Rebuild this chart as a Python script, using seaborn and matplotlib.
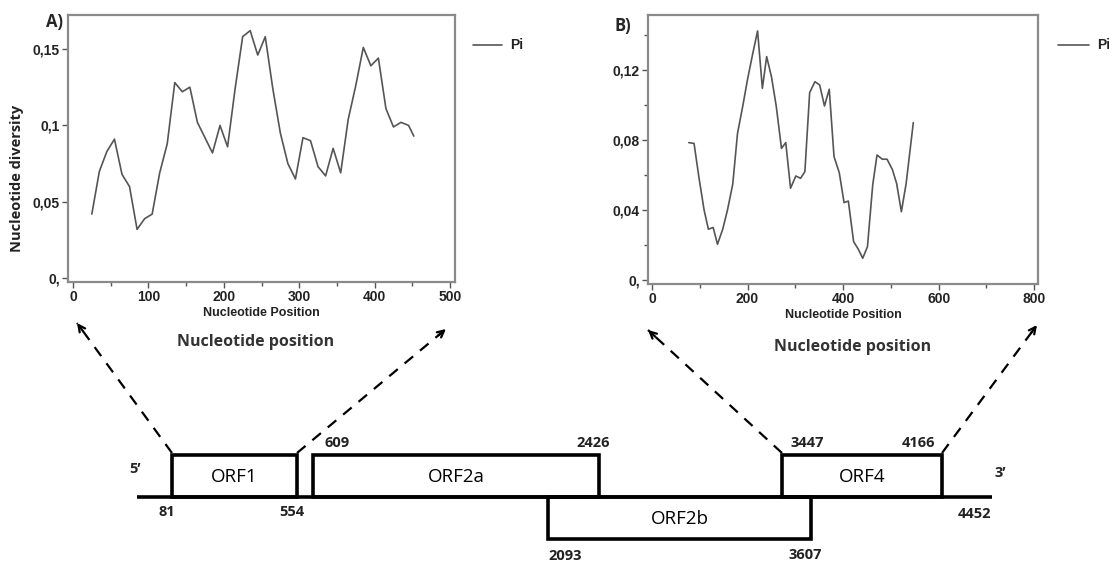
import numpy as np
import matplotlib
matplotlib.use("Agg")
import matplotlib.pyplot as plt
import seaborn as sns
from matplotlib.patches import Rectangle
from matplotlib.ticker import MultipleLocator, FixedLocator, FixedFormatter

# Nucleotide diversity (Pi), panel A
pos_a = [25, 35, 45, 55, 65, 75, 85, 95, 105, 115, 125, 135, 145, 155, 165, 175,
         185, 195, 205, 215, 225, 235, 245, 255, 265, 275, 285, 295, 305, 315,
         325, 335, 345, 355, 365, 375, 385, 395, 405, 415, 425, 435, 445, 452]
pi_a = [0.042, 0.070, 0.083, 0.091, 0.068, 0.060, 0.032, 0.039, 0.042, 0.069,
        0.088, 0.128, 0.122, 0.125, 0.102, 0.092, 0.082, 0.100, 0.086, 0.124,
        0.158, 0.162, 0.146, 0.158, 0.124, 0.095, 0.075, 0.065, 0.092, 0.090,
        0.073, 0.067, 0.085, 0.069, 0.104, 0.126, 0.151, 0.139, 0.144, 0.111,
        0.099, 0.102, 0.100, 0.093]

# panel B
pos_b = [77, 88, 98, 109, 118, 128, 137, 148, 158, 169, 179, 190, 200, 211, 221,
         231, 240, 250, 260, 271, 280, 290, 301, 311, 320, 330, 341, 351, 361,
         371, 381, 392, 402, 411, 422, 432, 441, 451, 462, 471, 482, 492, 503,
         512, 522, 532, 547]
pi_b = [0.0785, 0.078, 0.059, 0.040, 0.029, 0.030, 0.0204, 0.029, 0.040, 0.0547,
        0.0838, 0.0994, 0.1147, 0.1295, 0.1423, 0.1095, 0.1276, 0.1162, 0.0994,
        0.0752, 0.0785, 0.0524, 0.0594, 0.0581, 0.0619, 0.107, 0.1133, 0.1114,
        0.0994, 0.109, 0.0705, 0.0613, 0.0442, 0.0451, 0.0219, 0.0175, 0.0124,
        0.019, 0.0543, 0.0714, 0.069, 0.069, 0.0632, 0.0552, 0.039, 0.0552, 0.0899]

yticks_a = [0, 0.05, 0.1, 0.15]
ylabels_a = ["0,", "0,05", "0,1", "0,15"]
yticks_b = [0, 0.04, 0.08, 0.12]
ylabels_b = ["0,", "0,04", "0,08", "0,12"]

# genome organisation
orf_names = ["ORF1", "ORF2a", "ORF2b", "ORF4"]
orf_start = [81, 609, 2093, 3447]
orf_end = [554, 2426, 3607, 4166]
genome_len = 4452

sns.set_style("white")
plt.rcParams['font.family'] = ['Open Sans', 'DejaVu Sans']
tick_font = ['Liberation Sans Narrow', 'Liberation Sans', 'DejaVu Sans']

fig = plt.figure(figsize=(11.09, 5.62), dpi=100)

# background axes in pixel units for the schematic
bg = fig.add_axes([0, 0, 1, 1], zorder=0)
bg.set_xlim(0, 1109)
bg.set_ylim(562, 0)
bg.axis('off')

line_col = '#555555'
frame_col = '#8a8a8a'


def pi_panel(rect, x, y, xlim, ylim, xmajor, xminor, yticks, ylabels, yminor):
    ax = fig.add_axes(rect, zorder=2)
    sns.lineplot(x=x, y=y, ax=ax, color=line_col, linewidth=1.2)
    ax.set_xlim(*xlim)
    ax.set_ylim(*ylim)
    ax.xaxis.set_major_locator(MultipleLocator(xmajor))
    ax.xaxis.set_minor_locator(MultipleLocator(xminor))
    ax.yaxis.set_major_locator(FixedLocator(yticks))
    ax.yaxis.set_major_formatter(FixedFormatter(ylabels))
    if yminor:
        ax.yaxis.set_minor_locator(FixedLocator(yminor))
    ax.tick_params(which='both', direction='out', color='#555555', width=1, bottom=True, left=True)
    ax.tick_params(which='major', length=4, pad=2, labelsize=10, labelcolor='#222222')
    ax.tick_params(which='minor', length=3)
    for lab in ax.get_xticklabels() + ax.get_yticklabels():
        lab.set_family(tick_font)
        lab.set_fontweight('bold')
    for s in ax.spines.values():
        s.set_color(frame_col)
        s.set_linewidth(1.6)
    ax.set_xlabel('Nucleotide Position', fontsize=9, fontweight='bold', family=tick_font,
                  color='#222222', labelpad=2)
    ax.set_ylabel('')
    return ax


ax_a = pi_panel([68 / 1109, 1 - 282 / 562, 387 / 1109, 267 / 562], pos_a, pi_a,
                (-6.6, 506.6), (-0.0024, 0.1722), 100, 50, yticks_a, ylabels_a, None)
ax_b = pi_panel([648 / 1109, 1 - 284 / 562, 390 / 1109, 269 / 562], pos_b, pi_b,
                (-8.4, 808), (-0.0023, 0.1514), 200, 100, yticks_b, ylabels_b,
                [0.02, 0.06, 0.10, 0.14])

fig.text(17 / 1109, 1 - 178 / 562, 'Nucleotide diversity', rotation=90, ha='center',
         va='center', fontsize=10.5, fontweight='bold', color='#222222')

# panel letters and legends
bg.text(54, 22, 'A)', ha='center', va='center', fontsize=12, fontweight='bold')
bg.text(623, 26, 'B)', ha='center', va='center', fontsize=12, fontweight='bold')
for x0, x1 in [(473, 502), (1058, 1089)]:
    bg.plot([x0, x1], [45, 45], color=line_col, lw=1.2)
    bg.text(x1 + 8, 45, 'Pi', ha='left', va='center', fontsize=10, fontweight='bold',
            family=tick_font, color='#222222')

bg.text(256, 342, 'Nucleotide position', ha='center', va='center', fontsize=11.5,
        fontweight='bold', color='#333333')
bg.text(853, 347, 'Nucleotide position', ha='center', va='center', fontsize=11.5,
        fontweight='bold', color='#333333')

# schematic (not to scale) mapping from genome coordinate to drawing x
anchor_nt = [0, 81, 554, 609, 2093, 2426, 3447, 3607, 4166, 4452]
anchor_px = [137, 172, 297, 313, 548, 599, 782, 811, 942, 992]


def gx(nt):
    return np.interp(nt, anchor_nt, anchor_px)


base_y = 497
box_h = 42
orf_row = [1, 1, -1, 1]
lw_box = 2.6

bg.plot([gx(0), gx(genome_len)], [base_y, base_y], color='black', lw=lw_box,
        solid_capstyle='butt', zorder=3)
for name, s, e, row in zip(orf_names, orf_start, orf_end, orf_row):
    x0, x1 = gx(s), gx(e)
    y0 = base_y - box_h if row > 0 else base_y
    bg.add_patch(Rectangle((x0, y0), x1 - x0, box_h, fill=False, edgecolor='black',
                           lw=lw_box, zorder=3))
    bg.text((x0 + x1) / 2, y0 + box_h / 2 + 1, name, ha='center', va='center',
            fontsize=13.5, color='black')

num_style = dict(ha='center', va='center', fontsize=10.5, fontweight='bold', color='#222222')
bg.text(gx(orf_start[0]) - 5, 512, str(orf_start[0]), **num_style)
bg.text(gx(orf_end[0]) - 5, 512, str(orf_end[0]), **num_style)
bg.text(gx(orf_start[1]) + 24, 443, str(orf_start[1]), **num_style)
bg.text(gx(orf_end[1]) - 6, 443, str(orf_end[1]), **num_style)
bg.text(gx(orf_start[2]) + 17, 556, str(orf_start[2]), **num_style)
bg.text(gx(orf_end[2]) - 6, 555, str(orf_end[2]), **num_style)
bg.text(gx(orf_start[3]) + 25, 443, str(orf_start[3]), **num_style)
bg.text(gx(orf_end[3]) - 23, 443, str(orf_end[3]), **num_style)
bg.text(gx(genome_len) - 17, 514, str(genome_len), **num_style)
bg.text(135, 469, "5\u2019", ha='center', va='center', fontsize=10.5, fontweight='bold')
bg.text(1000, 473, "3\u2019", ha='center', va='center', fontsize=10.5, fontweight='bold')

# dashed zoom arrows from the ORF corners to the diversity plots
arrows = [((gx(orf_start[0]), 453), (77, 323)),
          ((gx(orf_end[0]), 453), (446, 329)),
          ((gx(orf_start[3]), 453), (648, 330)),
          ((gx(orf_end[3]), 453), (1037, 325))]
for (sx, sy), (tx, ty) in arrows:
    bg.plot([sx, tx], [sy, ty], color='black', lw=1.6, linestyle=(0, (5, 4)), zorder=3)
    d = np.hypot(tx - sx, ty - sy)
    bx, by = tx - (tx - sx) / d * 10, ty - (ty - sy) / d * 10
    bg.annotate('', xy=(tx, ty), xytext=(bx, by),
                arrowprops=dict(arrowstyle='->', lw=1.6, color='black',
                                shrinkA=0, shrinkB=0, mutation_scale=12))

fig.savefig('out.png', dpi=100)
